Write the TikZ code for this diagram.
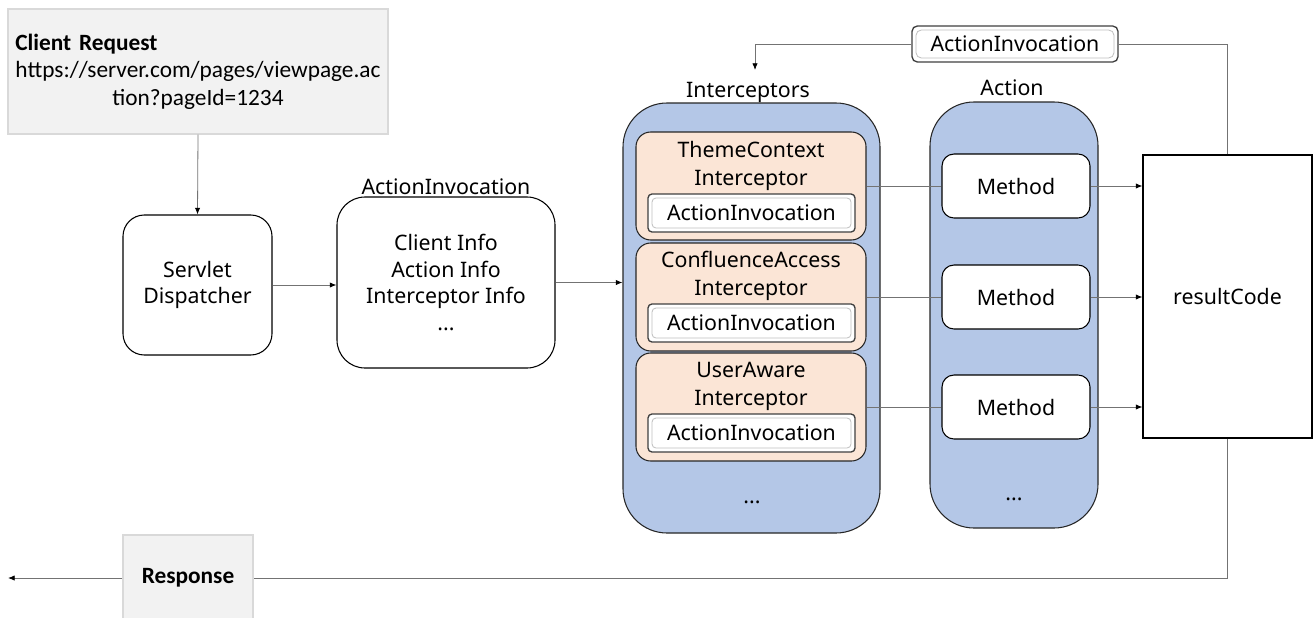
\documentclass[tikz,border=0pt]{standalone}
\usepackage{fontspec}
\setmainfont{Noto Sans}
\newfontfamily\calibri{Carlito}
\usetikzlibrary{arrows.meta,positioning}
\definecolor{groupblue}{HTML}{B4C7E7}
\definecolor{itempeach}{HTML}{FBE5D6}
\definecolor{boxgray}{HTML}{F2F2F2}
\definecolor{edgegray}{HTML}{D9D9D9}
\begin{document}
\begin{tikzpicture}[x=0.75pt,y=-0.75pt,
  font=\fontsize{16}{20}\selectfont,
  conn/.style={draw=black!55,line width=0.6pt},
  arr/.style={conn,-{Latex[length=5pt,width=4pt,color=black]}},
  graybox/.style={draw=edgegray,fill=boxgray,line width=0.8pt,font=\calibri\fontsize{17.5}{20.5}\selectfont},
  plainbox/.style={draw=black,fill=white,line width=0.8pt,align=center},
  group/.style={draw=black!85,fill=groupblue,line width=0.8pt,rounded corners=33pt},
  item/.style={draw=black!85,fill=itempeach,line width=0.8pt,rounded corners=11pt,
    minimum width=172.5pt,minimum height=81pt},
  invbox/.style={draw=black!75,fill=white,line width=1pt,rounded corners=3pt,
    minimum width=155.25pt,minimum height=28.5pt,inner sep=0pt,
    path picture={\draw[black!25,line width=0.6pt]
      ([shift={(3pt,-3pt)}]path picture bounding box.north west) rectangle
      ([shift={(-3pt,3pt)}]path picture bounding box.south east);}},
  method/.style={plainbox,rounded corners=9pt,minimum width=111pt,minimum height=48pt}]
\useasboundingbox (0,0) rectangle (1316,617);

% request and dispatcher
\node[graybox,minimum width=285pt,minimum height=93.75pt,text width=274pt,align=center] (req) at (198,71.5)
  {\makebox[\linewidth][l]{\bfseries Client Request}\\https://server.com/pages/viewpage.ac\\tion?pageId=1234};
\node[plainbox,rounded corners=16pt,minimum width=111.75pt,minimum height=105pt] (disp) at (197.5,285) {Servlet\\Dispatcher};
\node[plainbox,rounded corners=21pt,minimum width=163.5pt,minimum height=128.25pt] (info) at (446,282.5)
  {Client Info\\Action Info\\Interceptor Info\\...};
\node (infolbl) at (446,187) {ActionInvocation};

% interceptors
\node[group,minimum width=192.75pt,minimum height=322.5pt] (icpt) at (751.5,318) {};
\node (icptlbl) at (748,92) {Interceptors};
\node[item] (tc) at (751,186) {};
\node[item] (ca) at (751,297) {};
\node[item] (ua) at (751,407) {};
\node[align=center,inner sep=0pt,font=\fontsize{16}{21}\selectfont] (tctxt) at (751,166) {ThemeContext\\Interceptor};
\node[align=center,inner sep=0pt,font=\fontsize{16}{21}\selectfont] (catxt) at (751,276) {ConfluenceAccess\\Interceptor};
\node[align=center,inner sep=0pt,font=\fontsize{16}{21}\selectfont] (uatxt) at (751,386) {UserAware\\Interceptor};
\node[invbox] (tcinv) at (751.5,213) {ActionInvocation};
\node[invbox] (cainv) at (751.5,323) {ActionInvocation};
\node[invbox] (uainv) at (751.5,433) {ActionInvocation};
\node (icptdots) at (752,502) {...};

% action
\node[group,minimum width=126pt,minimum height=319.5pt] (act) at (1014,315) {};
\node (actlbl) at (1012,88) {Action};
\node[method] (m1) at (1016,186) {Method};
\node[method] (m2) at (1016,297) {Method};
\node[method] (m3) at (1016,407) {Method};
\node (actdots) at (1014,499) {...};

% result and loops
\node[plainbox,minimum width=126.75pt,minimum height=212.25pt] (res) at (1227.5,296.5) {resultCode};
\node[invbox,rounded corners=4pt,minimum width=154.5pt,minimum height=27pt] (topinv) at (1015,44) {ActionInvocation};
\node[graybox,minimum width=97.5pt,minimum height=64.5pt] (resp) at (188,578) {\bfseries Response};
\coordinate (back) at (755,70);
\coordinate (out) at (8,578);

\draw[arr] (req.south) -- (disp.north);
\draw[arr] (disp.east) -- (disp.east -| info.west);
\draw[arr] (info.east) -- (info.east -| icpt.west);
\draw[conn] (tc.east) -- (m1.west);
\draw[conn] (ca.east) -- (m2.west);
\draw[conn] (ua.east) -- (m3.west);
\draw[arr] (m1.east) -- (m1.east -| res.west);
\draw[arr] (m2.east) -- (m2.east -| res.west);
\draw[arr] (m3.east) -- (m3.east -| res.west);
\draw[conn] (res.north) |- (topinv.east);
\draw[arr] (topinv.west) -| (back);
\draw[conn] (res.south) |- (resp.east);
\draw[arr] (resp.west) -- (out);
\end{tikzpicture}
\end{document}
